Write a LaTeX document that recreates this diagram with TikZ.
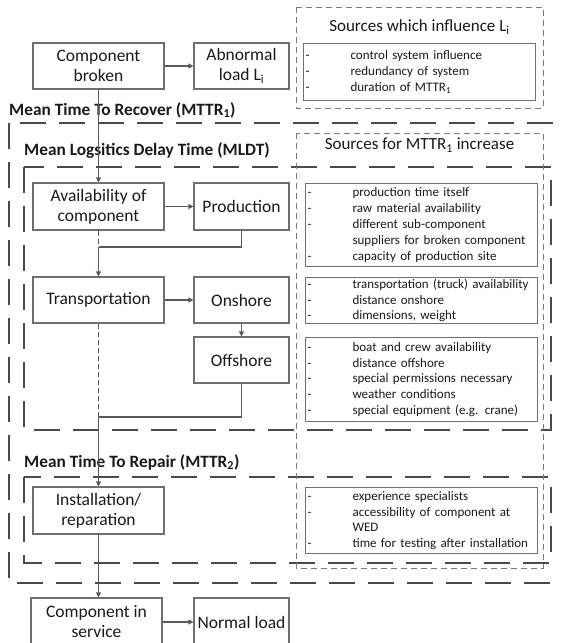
\documentclass[tikz,border=0pt]{standalone}
\usepackage{fontspec}
\setmainfont{Carlito}
\usetikzlibrary{arrows.meta}

\definecolor{boxline}{HTML}{6F6F6F}
\definecolor{linkline}{HTML}{5A5A5A}
\definecolor{phaseline}{HTML}{4A4A4A}
\definecolor{srcline}{HTML}{7A7A7A}
\definecolor{txt}{HTML}{1A1A1A}

% one bullet line of a source list, and its continuation line
\newcommand{\srcitem}[1]{\makebox[45pt][l]{-}#1}
\newcommand{\srccont}[1]{\hspace*{45pt}#1}

\tikzset{
  stepbox/.style={draw=boxline, line width=1.1pt, align=center, inner sep=0pt,
    font=\fontsize{17.5}{20}\selectfont, text=txt},
  srcbox/.style={draw=boxline, line width=1.1pt, align=left, anchor=north west,
    inner xsep=2pt, inner ysep=0pt, text width=228pt,
    font=\fontsize{13}{15.8}\selectfont, text=txt},
  link/.style={draw=linkline, line width=1.1pt},
  arr/.style={link, -{Triangle[length=5pt,width=5pt]}},
  dlink/.style={link, dash pattern=on 5pt off 3pt},
  phase/.style={draw=phaseline, line width=1.4pt, dash pattern=on 26pt off 13pt},
  srcframe/.style={draw=srcline, line width=1pt, dash pattern=on 6pt off 4pt},
  phasetitle/.style={font=\bfseries\fontsize{17.3}{20}\selectfont, anchor=west,
    inner sep=0pt, text=txt},
  srctitle/.style={font=\fontsize{17}{20}\selectfont, inner sep=0pt, text=txt}
}

\begin{document}
\begin{tikzpicture}[x=1pt, y=-1pt]
\useasboundingbox (0,0) rectangle (561,643);
\clip (0,0) rectangle (561,643);
\fill[white] (0,0) rectangle (561,643);

% phase frames
\draw[phase] (9,123) rectangle (640,583);
\draw[phase] (24,167) rectangle (551,430);
\draw[phase] (24,477) rectangle (551,563);

\node[phasetitle] (tmttr) at (9,110) {Mean Time To Recover (MTTR\textsubscript{1})};
\node[phasetitle] (tmldt) at (24,151) {Mean Logsitics Delay Time (MLDT)};
\node[phasetitle] (tmttrb) at (24,462) {Mean Time To Repair (MTTR\textsubscript{2})};

% source frames
\draw[srcframe] (296,7) rectangle (543,108);
\node[srctitle] (tsrcl) at (419.5,27) {Sources which influence L\textsubscript{i}};
\node[srcbox, minimum height=57pt] (sl) at (303,43) {%
  \srcitem{control system influence}\\
  \srcitem{redundancy of system}\\
  \srcitem{duration of MTTR\textsubscript{1}}};

\draw[srcframe] (296,133) rectangle (543,568);
\node[srctitle] (tsrcm) at (419.5,145) {Sources for MTTR\textsubscript{1} increase};
\node[srcbox, minimum height=83pt] (sa) at (305,183) {%
  \srcitem{production time itself}\\
  \srcitem{raw material availability}\\
  \srcitem{different sub-component}\\
  \srccont{suppliers for broken component}\\
  \srcitem{capacity of production site}};
\node[srcbox, minimum height=46pt] (sb) at (305,277) {%
  \srcitem{transportation (truck) availability}\\
  \srcitem{distance onshore}\\
  \srcitem{dimensions, weight}};
\node[srcbox, minimum height=84pt] (sc) at (305,337) {%
  \srcitem{boat and crew availability}\\
  \srcitem{distance offshore}\\
  \srcitem{special permissions necessary}\\
  \srcitem{weather conditions}\\
  \srcitem{special equipment (e.g. crane)}};
\node[srcbox, minimum height=66pt] (sd) at (305,487) {%
  \srcitem{experience specialists}\\
  \srcitem{accessibility of component at}\\
  \srccont{WED}\\
  \srcitem{time for testing after installation}};

% process steps
\node[stepbox, minimum width=131pt, minimum height=46pt] (cb) at (98.5,66) {Component\\broken};
\node[stepbox, minimum width=95pt, minimum height=46pt] (al) at (241.5,66) {Abnormal\\load L\textsubscript{i}};
\node[stepbox, minimum width=131pt, minimum height=47pt] (av) at (98.5,206.5) {Availability of\\component};
\node[stepbox, minimum width=95pt, minimum height=47pt] (pr) at (241.5,206.5) {Production};
\node[stepbox, minimum width=131pt, minimum height=46pt] (tr) at (98.5,300) {Transportation};
\node[stepbox, minimum width=95pt, minimum height=46pt] (on) at (241.5,300) {Onshore};
\node[stepbox, minimum width=95pt, minimum height=46pt] (of) at (241.5,360) {Offshore};
\node[stepbox, minimum width=131pt, minimum height=47pt] (ir) at (98.5,510.5) {Installation/\\reparation};
\node[stepbox, minimum width=131pt, minimum height=48pt] (cs) at (96.5,622) {Component in\\service};
\node[stepbox, minimum width=95pt, minimum height=48pt] (nl) at (241.5,622) {Normal load};

% connectors
\coordinate (j1) at (98.5,247);
\coordinate (j2) at (98.5,417);
\draw[arr] (cb.east) -- (al.west);
\draw[arr] (cb.south) -- (av.north);
\draw[arr] (av.east) -- (pr.west);
\draw[dlink] (av.south) -- (j1);
\draw[link] (pr.south) |- (j1);
\draw[arr] (j1) -- (tr.north);
\draw[arr] (tr.east) -- (on.west);
\draw[arr] (on.south) -- (of.north);
\draw[dlink] (tr.south) -- (j2);
\draw[link] (of.south) |- (j2);
\draw[arr] (j2) -- (ir.north);
\draw[arr] (ir.south) -- (ir.south |- cs.north);
\draw[arr] (cs.east) -- (nl.west);
\end{tikzpicture}
\end{document}
